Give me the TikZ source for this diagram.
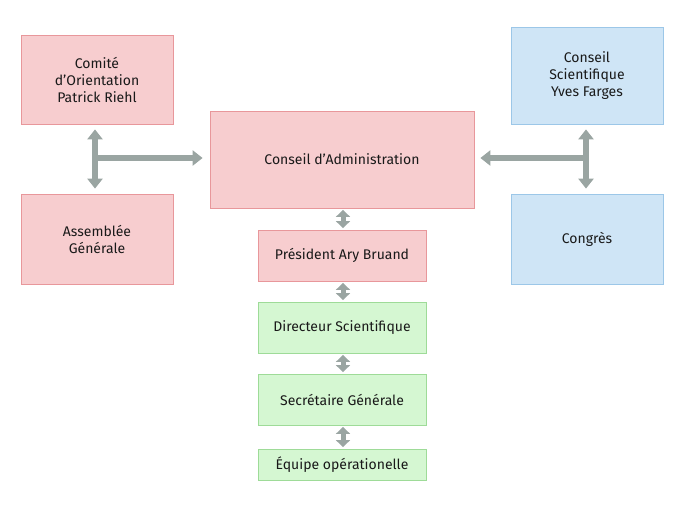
\documentclass[tikz,border=0pt]{standalone}
\usepackage{fontspec}
\setmainfont{Fira Sans}
\usetikzlibrary{arrows.meta}
\definecolor{pinkfill}{HTML}{F7CDCF}
\definecolor{pinkline}{HTML}{E8979B}
\definecolor{bluefill}{HTML}{CFE5F6}
\definecolor{blueline}{HTML}{9CC7E8}
\definecolor{greenfill}{HTML}{D5F7D2}
\definecolor{greenline}{HTML}{9EDB98}
\definecolor{arrowgray}{HTML}{9AA5A2}
\tikzset{
  box/.style={draw, line width=0.8pt, align=center, inner sep=0pt, font=\fontsize{14}{17}\selectfont, text=black!90},
  pinkbox/.style={box, fill=pinkfill, draw=pinkline},
  bluebox/.style={box, fill=bluefill, draw=blueline},
  greenbox/.style={box, fill=greenfill, draw=greenline},
  bigarrow/.style={draw=arrowgray, line width=6pt, {Triangle[width=15pt,length=10pt]}-{Triangle[width=15pt,length=10pt]}},
  bigarrowone/.style={draw=arrowgray, line width=6pt, -{Triangle[width=15pt,length=10pt]}},
  smallarrow/.style={draw=arrowgray, line width=5pt, {Triangle[width=14pt,length=7pt]}-{Triangle[width=14pt,length=7pt]}, shorten >=1.5pt, shorten <=1.5pt}
}
\begin{document}
\begin{tikzpicture}[x=1pt,y=-1pt]
\useasboundingbox (0,0) rectangle (685,507);
\node[pinkbox, minimum width=152pt, minimum height=89pt] (comite) at (97,79.5) {Comité\\d’Orientation\\Patrick Riehl};
\node[pinkbox, minimum width=152pt, minimum height=90pt] (ag) at (97,239) {Assemblée\\Générale};
\node[pinkbox, minimum width=264pt, minimum height=97pt] (ca) at (342,159.5) {Conseil d’Administration};
\node[bluebox, minimum width=152pt, minimum height=97pt] (cs) at (587,75.5) {Conseil\\Scientifique\\Yves Farges};
\node[bluebox, minimum width=152pt, minimum height=90pt] (congres) at (587,239) {Congrès};
\node[pinkbox, minimum width=168pt, minimum height=51pt] (pres) at (342,255.5) {Président Ary Bruand};
\node[greenbox, minimum width=168pt, minimum height=51pt] (dir) at (342,327.5) {Directeur Scientifique};
\node[greenbox, minimum width=168pt, minimum height=51pt] (sec) at (342,399.5) {Secrétaire Générale};
\node[greenbox, minimum width=168pt, minimum height=31pt] (eq) at (342,464.5) {Équipe opérationelle};
\coordinate (lj) at (95,158);
\coordinate (rj) at (586,158);
\draw[bigarrow] ([xshift=-2pt,yshift=-5pt]comite.south) -- ([xshift=-2pt,yshift=5pt]ag.north);
\draw[bigarrowone] (lj) -- ([xshift=-7pt]ca.west |- lj);
\draw[bigarrow] ([xshift=-1pt,yshift=-5pt]cs.south) -- ([xshift=-1pt,yshift=5pt]congres.north);
\draw[bigarrowone] (rj) -- ([xshift=6pt]ca.east |- rj);
\draw[smallarrow] ([xshift=1pt]ca.south) -- ([xshift=1pt]pres.north);
\draw[smallarrow] ([xshift=1pt]pres.south) -- ([xshift=1pt]dir.north);
\draw[smallarrow] ([xshift=1pt]dir.south) -- ([xshift=1pt]sec.north);
\draw[smallarrow] ([xshift=1pt]sec.south) -- ([xshift=1pt]eq.north);
\end{tikzpicture}
\end{document}
